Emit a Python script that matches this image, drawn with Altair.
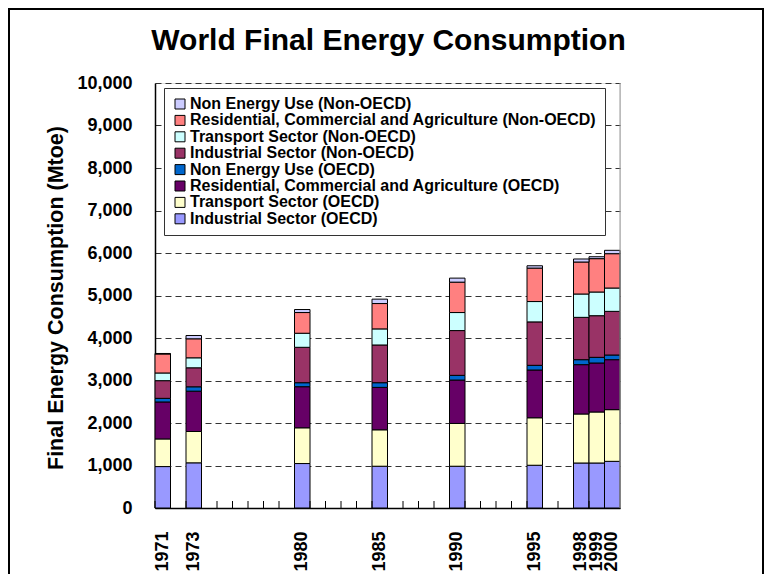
import altair as alt
import pandas as pd

years = [1971, 1973, 1980, 1985, 1990, 1995, 1998, 1999, 2000]
all_years = list(range(1971, 2001))

# series values (Mtoe), one list per series, in stacking order bottom -> top
ind_oecd = [975, 1063, 1046, 983, 983, 1006, 1059, 1059, 1098]
trans_oecd = [650, 737, 841, 857, 1006, 1117, 1153, 1200, 1216]
res_oecd = [870, 949, 967, 998, 1022, 1124, 1161, 1153, 1176]
ne_oecd = [85, 103, 94, 110, 110, 110, 117, 133, 110]
ind_non = [416, 447, 833, 888, 1054, 1022, 996, 980, 1027]
trans_non = [181, 235, 331, 378, 424, 479, 549, 557, 549]
res_non = [447, 447, 487, 597, 715, 787, 753, 785, 808]
ne_non = [12, 78, 71, 103, 95, 55, 71, 45, 79]

series_names = [
    "Industrial Sector (OECD)",
    "Transport Sector (OECD)",
    "Residential, Commercial and Agriculture (OECD)",
    "Non Energy Use (OECD)",
    "Industrial Sector (Non-OECD)",
    "Transport Sector (Non-OECD)",
    "Residential, Commercial and Agriculture (Non-OECD)",
    "Non Energy Use (Non-OECD)",
]
series_values = [ind_oecd, trans_oecd, res_oecd, ne_oecd, ind_non, trans_non, res_non, ne_non]
series_colors = ["#9999FF", "#FFFFCC", "#660066", "#0066CC", "#993366", "#CCFFFF", "#FF8080", "#CCCCFF"]

title_text = "World Final Energy Consumption"
y_title = "Final Energy Consumption (Mtoe)"

rows = []
for i, (name, vals) in enumerate(zip(series_names, series_values)):
    for yr, v in zip(years, vals):
        rows.append({"year": str(yr), "series": name, "value": v, "order": i})
df = pd.DataFrame(rows)

legend_order = list(reversed(series_names))
legend_colors = list(reversed(series_colors))

W, H = 465, 425
FONT = "Liberation Sans"
year_dom = [str(y) for y in all_years]
label_list = "[" + ",".join("'%d'" % y for y in years) + "]"

x_axis = alt.Axis(
    title=None, labelAngle=-90, labelExpr="indexof(%s, datum.label) >= 0 ? datum.label : ''" % label_list,
    ticks=False, tickSize=0, domain=True, domainColor="black", domainWidth=1.5,
    labelFontSize=18, labelFont=FONT, labelFontWeight="bold", labelColor="black",
    labelPadding=23, labelOverlap=False, labelAlign="right", labelBaseline="middle", grid=False,
)
x_scale = alt.Scale(domain=year_dom, paddingInner=0, paddingOuter=0)

bars = alt.Chart(df).mark_bar(stroke="black", strokeWidth=1).encode(
    x=alt.X("year:O", scale=x_scale, axis=x_axis),
    y=alt.Y(
        "value:Q", stack="zero",
        scale=alt.Scale(domain=[0, 10000], nice=False),
        axis=alt.Axis(
            values=list(range(0, 10001, 1000)), format=",.0f", grid=True, gridDash=[6, 4],
            gridColor="#333333", gridWidth=1, ticks=False, tickSize=0, domainColor="black", domainWidth=1.5,
            labelFontSize=18, labelFont=FONT, labelFontWeight="bold", labelColor="black", labelPadding=23,
            title=y_title, titleFontSize=21.5, titleFont=FONT,
            titleFontWeight="bold", titleColor="black", titleX=-88, titleY=H / 2 + 2,
        ),
    ),
    color=alt.Color(
        "series:N",
        scale=alt.Scale(domain=legend_order, range=legend_colors),
        legend=alt.Legend(
            title=None, orient="none", legendX=9, legendY=5, fillColor="white", strokeColor="#333333",
            padding=8, labelFontSize=16, labelFont=FONT, labelFontWeight="bold", labelColor="black",
            labelLimit=700, symbolType="square", symbolSize=100, symbolStrokeColor="black",
            symbolStrokeWidth=1, rowPadding=0.4, labelOffset=2,
        ),
    ),
    order=alt.Order("order:Q", sort="ascending"),
)

tick_df = pd.DataFrame({"year": year_dom})
ticks = alt.Chart(tick_df).mark_rule(color="black", strokeWidth=1).encode(
    x=alt.X("year:O", scale=x_scale, axis=x_axis, bandPosition=0),
    y=alt.value(H - 7),
    y2=alt.value(H),
)

one = pd.DataFrame({"t": [title_text]})
title_mark = alt.Chart(one).mark_text(
    font=FONT, fontSize=30, fontWeight="bold", color="black", align="center", baseline="alphabetic"
).encode(text="t:N", x=alt.value(W / 2 + 1), y=alt.value(-33))

right_edge = alt.Chart(one).mark_rule(color="#999999", strokeWidth=1).encode(
    x=alt.value(W), y=alt.value(0), y2=alt.value(H)
)
frame = alt.Chart(one).mark_rect(fillOpacity=0, stroke="black", strokeWidth=2).encode(
    x=alt.value(-146), x2=alt.value(608), y=alt.value(-74), y2=alt.value(H + 80)
)

chart = alt.layer(bars, ticks, right_edge, frame, title_mark).properties(
    width=W, height=H,
    autosize=alt.AutoSizeParams(type="none"),
    padding={"left": 147, "top": 75, "right": 144, "bottom": 66},
).configure_view(stroke=None).configure(background="white")

chart.save("out.html", embed_options={"renderer": "svg", "actions": False})
